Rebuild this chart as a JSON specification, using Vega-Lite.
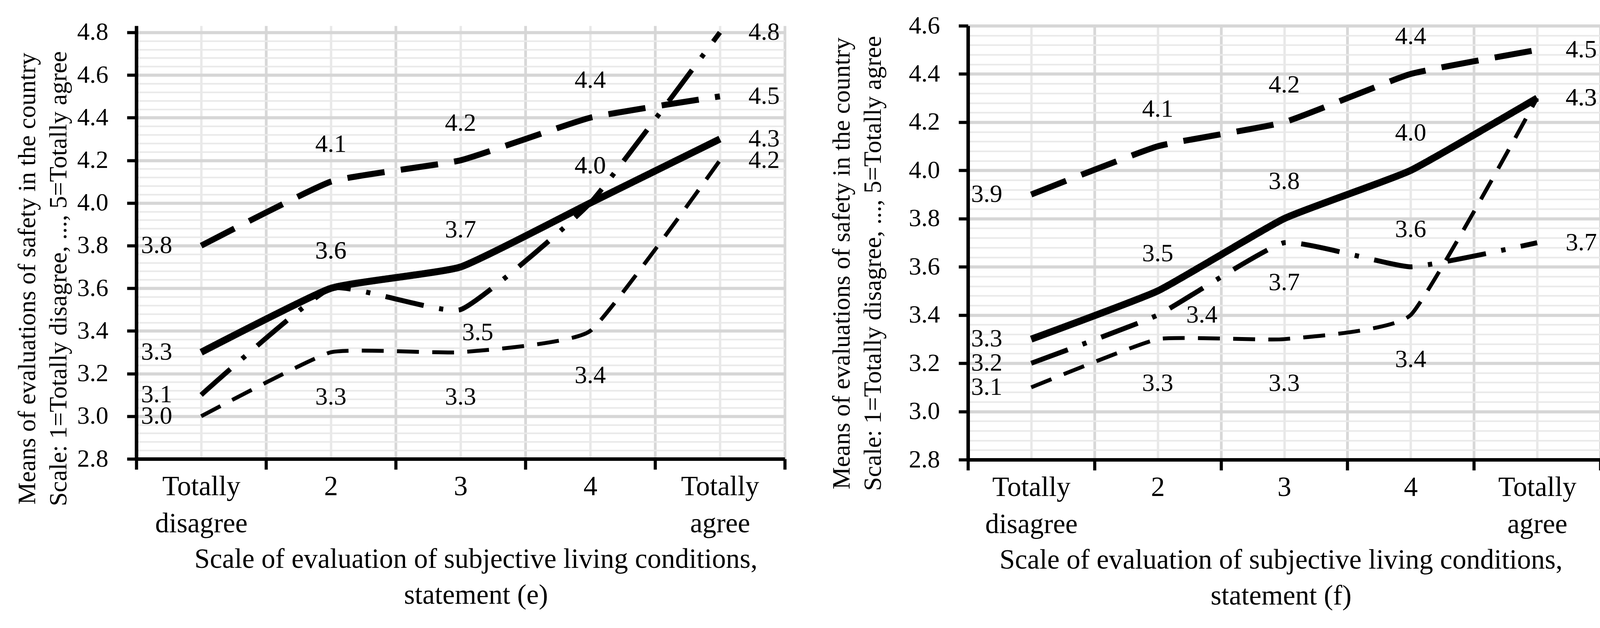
{
  "$schema": "https://vega.github.io/schema/vega-lite/v6.json",
  "background": "white",
  "padding": {"left": 38, "top": 34, "right": 10, "bottom": 10},
  "spacing": 110,
  "config": {
    "font": "Liberation Serif",
    "view": {"stroke": null},
    "axis": {"labelColor": "black", "titleColor": "black", "labelFont": "Liberation Serif", "titleFont": "Liberation Serif", "titleFontWeight": "normal", "labelLimit": 0, "titleLimit": 0}
  },
  "datasets": {
    "e": [
      {"series": "Series 1", "x": 1, "value": 3.3}, {"series": "Series 1", "x": 2, "value": 3.6}, {"series": "Series 1", "x": 3, "value": 3.7}, {"series": "Series 1", "x": 4, "value": 4.0}, {"series": "Series 1", "x": 5, "value": 4.3},
      {"series": "Series 2", "x": 1, "value": 3.8}, {"series": "Series 2", "x": 2, "value": 4.1}, {"series": "Series 2", "x": 3, "value": 4.2}, {"series": "Series 2", "x": 4, "value": 4.4}, {"series": "Series 2", "x": 5, "value": 4.5},
      {"series": "Series 3", "x": 1, "value": 3.1}, {"series": "Series 3", "x": 2, "value": 3.6}, {"series": "Series 3", "x": 3, "value": 3.5}, {"series": "Series 3", "x": 4, "value": 4.0}, {"series": "Series 3", "x": 5, "value": 4.8},
      {"series": "Series 4", "x": 1, "value": 3.0}, {"series": "Series 4", "x": 2, "value": 3.3}, {"series": "Series 4", "x": 3, "value": 3.3}, {"series": "Series 4", "x": 4, "value": 3.4}, {"series": "Series 4", "x": 5, "value": 4.2}
    ],
    "f": [
      {"series": "Series 1", "x": 1, "value": 3.3}, {"series": "Series 1", "x": 2, "value": 3.5}, {"series": "Series 1", "x": 3, "value": 3.8}, {"series": "Series 1", "x": 4, "value": 4.0}, {"series": "Series 1", "x": 5, "value": 4.3},
      {"series": "Series 2", "x": 1, "value": 3.9}, {"series": "Series 2", "x": 2, "value": 4.1}, {"series": "Series 2", "x": 3, "value": 4.2}, {"series": "Series 2", "x": 4, "value": 4.4}, {"series": "Series 2", "x": 5, "value": 4.5},
      {"series": "Series 3", "x": 1, "value": 3.2}, {"series": "Series 3", "x": 2, "value": 3.4}, {"series": "Series 3", "x": 3, "value": 3.7}, {"series": "Series 3", "x": 4, "value": 3.6}, {"series": "Series 3", "x": 5, "value": 3.7},
      {"series": "Series 4", "x": 1, "value": 3.1}, {"series": "Series 4", "x": 2, "value": 3.3}, {"series": "Series 4", "x": 3, "value": 3.3}, {"series": "Series 4", "x": 4, "value": 3.4}, {"series": "Series 4", "x": 5, "value": 4.3}
    ]
  },
  "hconcat": [
    {
      "width": 1660,
      "height": 1109,
      "data": {"name": "e"},
      "resolve": {"axis": {"x": "independent", "y": "independent"}},
      "layer": [
        {
          "mark": {"type": "line", "interpolate": "cardinal", "tension": 0.6, "strokeCap": "butt", "strokeJoin": "round", "color": "black"},
          "encoding": {
            "x": {"field": "x", "type": "quantitative", "scale": {"domain": [0.5, 5.5], "nice": false, "zero": false},
              "axis": {"orient": "bottom", "values": [0.5, 1.5, 2.5, 3.5, 4.5, 5.5], "labels": false, "title": null, "grid": true, "gridColor": "#d8d8d8", "gridWidth": 7, "domainColor": "black", "domainWidth": 9, "tickColor": "black", "tickWidth": 8, "tickSize": 27}},
            "y": {"field": "value", "type": "quantitative", "scale": {"domain": [2.8, 4.831], "nice": false, "zero": false},
              "axis": {"orient": "left", "values": [2.8, 3.0, 3.2, 3.4, 3.6, 3.8, 4.0, 4.2, 4.4, 4.6, 4.8], "format": ".1f", "grid": true, "gridColor": "#d6d6d6", "gridWidth": 8, "domainColor": "black", "domainWidth": 9, "tickColor": "black", "tickWidth": 8, "tickSize": 24, "labelFontSize": 64, "labelPadding": 48,
                "title": ["Means of evaluations of safety in the country", "Scale: 1=Totally disagree, ..., 5=Totally agree"], "titleFontSize": 64, "titleLineHeight": 80, "titlePadding": 15, "titleY": 647}},
            "strokeDash": {"field": "series", "type": "nominal", "scale": {"domain": ["Series 1", "Series 2", "Series 3", "Series 4"], "range": [[1, 0], [96, 42], [100, 40, 11, 40], [56, 34]]}, "legend": null},
            "strokeWidth": {"field": "series", "type": "ordinal", "scale": {"domain": ["Series 1", "Series 2", "Series 3", "Series 4"], "range": [18, 10, 10, 10]}, "legend": null}
          }
        },
        {
          "transform": [{"filter": "datum.x == 1"}],
          "mark": {"type": "text", "fontSize": 64, "font": "Liberation Serif", "color": "black", "align": "center", "baseline": "middle", "dx": -114},
          "encoding": {
            "x": {"field": "x", "type": "quantitative", "scale": {"domain": [0.5, 5.5], "nice": false, "zero": false},
              "axis": {"orient": "bottom", "values": [1, 2, 3, 4, 5], "labelExpr": "datum.value == 1 ? ['Totally', 'disagree'] : datum.value == 5 ? ['Totally', 'agree'] : datum.label", "ticks": false, "domain": false, "grid": true, "gridColor": "#e8e8e8", "gridWidth": 6, "labelFontSize": 71, "labelLineHeight": 95, "labelPadding": 36, "labelBaseline": "top",
                "title": ["Scale of evaluation of subjective living conditions,", "statement (e)"], "titleFontSize": 71, "titleLineHeight": 92, "titlePadding": 22, "titleX": 869}},
            "y": {"field": "value", "type": "quantitative", "scale": {"domain": [2.8, 4.831], "nice": false, "zero": false},
              "axis": {"orient": "left", "values": [2.84, 2.88, 2.92, 2.96, 3.04, 3.08, 3.12, 3.16, 3.24, 3.28, 3.32, 3.36, 3.44, 3.48, 3.52, 3.56, 3.64, 3.68, 3.72, 3.76, 3.84, 3.88, 3.92, 3.96, 4.04, 4.08, 4.12, 4.16, 4.24, 4.28, 4.32, 4.36, 4.44, 4.48, 4.52, 4.56, 4.64, 4.68, 4.72, 4.76], "labels": false, "ticks": false, "domain": false, "title": null, "grid": true, "gridColor": "#e9e9e9", "gridWidth": 4}},
            "text": {"field": "value", "type": "quantitative", "format": ".1f"}
          }
        },
        {
          "transform": [{"filter": "datum.x == 5"}],
          "mark": {"type": "text", "fontSize": 64, "font": "Liberation Serif", "color": "black", "align": "center", "baseline": "middle", "dx": 113},
          "encoding": {
            "x": {"field": "x", "type": "quantitative", "scale": {"domain": [0.5, 5.5], "nice": false, "zero": false}, "axis": null},
            "y": {"field": "value", "type": "quantitative", "scale": {"domain": [2.8, 4.831], "nice": false, "zero": false}, "axis": null},
            "text": {"field": "value", "type": "quantitative", "format": ".1f"}
          }
        },
        {
          "transform": [{"filter": "datum.x > 1 && datum.x < 5 && (datum.series == 'Series 1' || datum.series == 'Series 2' || (datum.series == 'Series 3' && datum.x != 3))"}],
          "mark": {"type": "text", "fontSize": 64, "font": "Liberation Serif", "color": "black", "align": "center", "baseline": "middle", "dy": -95},
          "encoding": {
            "x": {"field": "x", "type": "quantitative", "scale": {"domain": [0.5, 5.5], "nice": false, "zero": false}, "axis": null},
            "y": {"field": "value", "type": "quantitative", "scale": {"domain": [2.8, 4.831], "nice": false, "zero": false}, "axis": null},
            "text": {"field": "value", "type": "quantitative", "format": ".1f"}
          }
        },
        {
          "transform": [{"filter": "datum.x > 1 && datum.x < 5 && datum.series == 'Series 4'"}],
          "mark": {"type": "text", "fontSize": 64, "font": "Liberation Serif", "color": "black", "align": "center", "baseline": "middle", "dy": 115},
          "encoding": {
            "x": {"field": "x", "type": "quantitative", "scale": {"domain": [0.5, 5.5], "nice": false, "zero": false}, "axis": null},
            "y": {"field": "value", "type": "quantitative", "scale": {"domain": [2.8, 4.831], "nice": false, "zero": false}, "axis": null},
            "text": {"field": "value", "type": "quantitative", "format": ".1f"}
          }
        },
        {
          "transform": [{"filter": "datum.x == 3 && datum.series == 'Series 3'"}],
          "mark": {"type": "text", "fontSize": 64, "font": "Liberation Serif", "color": "black", "align": "center", "baseline": "middle", "dx": 44, "dy": 59},
          "encoding": {
            "x": {"field": "x", "type": "quantitative", "scale": {"domain": [0.5, 5.5], "nice": false, "zero": false}, "axis": null},
            "y": {"field": "value", "type": "quantitative", "scale": {"domain": [2.8, 4.831], "nice": false, "zero": false}, "axis": null},
            "text": {"field": "value", "type": "quantitative", "format": ".1f"}
          }
        }
      ]
    },
    {
      "width": 1619,
      "height": 1111,
      "data": {"name": "f"},
      "resolve": {"axis": {"x": "independent", "y": "independent"}},
      "layer": [
        {
          "mark": {"type": "line", "interpolate": "cardinal", "tension": 0.6, "strokeCap": "butt", "strokeJoin": "round", "color": "black"},
          "encoding": {
            "x": {"field": "x", "type": "quantitative", "scale": {"domain": [0.5, 5.5], "nice": false, "zero": false},
              "axis": {"orient": "bottom", "values": [0.5, 1.5, 2.5, 3.5, 4.5, 5.5], "labels": false, "title": null, "grid": true, "gridColor": "#d8d8d8", "gridWidth": 7, "domainColor": "black", "domainWidth": 9, "tickColor": "black", "tickWidth": 8, "tickSize": 27}},
            "y": {"field": "value", "type": "quantitative", "scale": {"domain": [2.8, 4.6], "nice": false, "zero": false},
              "axis": {"orient": "left", "values": [2.8, 3.0, 3.2, 3.4, 3.6, 3.8, 4.0, 4.2, 4.4, 4.6], "format": ".1f", "grid": true, "gridColor": "#d6d6d6", "gridWidth": 8, "domainColor": "black", "domainWidth": 9, "tickColor": "black", "tickWidth": 8, "tickSize": 24, "labelFontSize": 64, "labelPadding": 48,
                "title": ["Means of evaluations of safety in the country", "Scale: 1=Totally disagree, ..., 5=Totally agree"], "titleFontSize": 64, "titleLineHeight": 80, "titlePadding": 59, "titleY": 608}},
            "strokeDash": {"field": "series", "type": "nominal", "scale": {"domain": ["Series 1", "Series 2", "Series 3", "Series 4"], "range": [[1, 0], [96, 42], [100, 40, 11, 40], [56, 34]]}, "legend": null},
            "strokeWidth": {"field": "series", "type": "ordinal", "scale": {"domain": ["Series 1", "Series 2", "Series 3", "Series 4"], "range": [18, 10, 10, 10]}, "legend": null}
          }
        },
        {
          "transform": [{"filter": "datum.x == 1"}],
          "mark": {"type": "text", "fontSize": 64, "font": "Liberation Serif", "color": "black", "align": "center", "baseline": "middle", "dx": -114},
          "encoding": {
            "x": {"field": "x", "type": "quantitative", "scale": {"domain": [0.5, 5.5], "nice": false, "zero": false},
              "axis": {"orient": "bottom", "values": [1, 2, 3, 4, 5], "labelExpr": "datum.value == 1 ? ['Totally', 'disagree'] : datum.value == 5 ? ['Totally', 'agree'] : datum.label", "ticks": false, "domain": false, "grid": true, "gridColor": "#e8e8e8", "gridWidth": 6, "labelFontSize": 71, "labelLineHeight": 95, "labelPadding": 36, "labelBaseline": "top",
                "title": ["Scale of evaluation of subjective living conditions,", "statement (f)"], "titleFontSize": 71, "titleLineHeight": 92, "titlePadding": 22, "titleX": 801}},
            "y": {"field": "value", "type": "quantitative", "scale": {"domain": [2.8, 4.6], "nice": false, "zero": false},
              "axis": {"orient": "left", "values": [2.84, 2.88, 2.92, 2.96, 3.04, 3.08, 3.12, 3.16, 3.24, 3.28, 3.32, 3.36, 3.44, 3.48, 3.52, 3.56, 3.64, 3.68, 3.72, 3.76, 3.84, 3.88, 3.92, 3.96, 4.04, 4.08, 4.12, 4.16, 4.24, 4.28, 4.32, 4.36, 4.44, 4.48, 4.52, 4.56], "labels": false, "ticks": false, "domain": false, "title": null, "grid": true, "gridColor": "#e9e9e9", "gridWidth": 4}},
            "text": {"field": "value", "type": "quantitative", "format": ".1f"}
          }
        },
        {
          "transform": [{"filter": "datum.x == 5 || (datum.x == 2 && datum.series == 'Series 3')"}],
          "mark": {"type": "text", "fontSize": 64, "font": "Liberation Serif", "color": "black", "align": "center", "baseline": "middle", "dx": 113},
          "encoding": {
            "x": {"field": "x", "type": "quantitative", "scale": {"domain": [0.5, 5.5], "nice": false, "zero": false}, "axis": null},
            "y": {"field": "value", "type": "quantitative", "scale": {"domain": [2.8, 4.6], "nice": false, "zero": false}, "axis": null},
            "text": {"field": "value", "type": "quantitative", "format": ".1f"}
          }
        },
        {
          "transform": [{"filter": "datum.x > 1 && datum.x < 5 && (datum.series == 'Series 1' || datum.series == 'Series 2' || (datum.series == 'Series 3' && datum.x == 4))"}],
          "mark": {"type": "text", "fontSize": 64, "font": "Liberation Serif", "color": "black", "align": "center", "baseline": "middle", "dy": -95},
          "encoding": {
            "x": {"field": "x", "type": "quantitative", "scale": {"domain": [0.5, 5.5], "nice": false, "zero": false}, "axis": null},
            "y": {"field": "value", "type": "quantitative", "scale": {"domain": [2.8, 4.6], "nice": false, "zero": false}, "axis": null},
            "text": {"field": "value", "type": "quantitative", "format": ".1f"}
          }
        },
        {
          "transform": [{"filter": "datum.x > 1 && datum.x < 5 && datum.series == 'Series 4'"}],
          "mark": {"type": "text", "fontSize": 64, "font": "Liberation Serif", "color": "black", "align": "center", "baseline": "middle", "dy": 114},
          "encoding": {
            "x": {"field": "x", "type": "quantitative", "scale": {"domain": [0.5, 5.5], "nice": false, "zero": false}, "axis": null},
            "y": {"field": "value", "type": "quantitative", "scale": {"domain": [2.8, 4.6], "nice": false, "zero": false}, "axis": null},
            "text": {"field": "value", "type": "quantitative", "format": ".1f"}
          }
        },
        {
          "transform": [{"filter": "datum.x == 3 && datum.series == 'Series 3'"}],
          "mark": {"type": "text", "fontSize": 64, "font": "Liberation Serif", "color": "black", "align": "center", "baseline": "middle", "dy": 102},
          "encoding": {
            "x": {"field": "x", "type": "quantitative", "scale": {"domain": [0.5, 5.5], "nice": false, "zero": false}, "axis": null},
            "y": {"field": "value", "type": "quantitative", "scale": {"domain": [2.8, 4.6], "nice": false, "zero": false}, "axis": null},
            "text": {"field": "value", "type": "quantitative", "format": ".1f"}
          }
        }
      ]
    }
  ]
}
